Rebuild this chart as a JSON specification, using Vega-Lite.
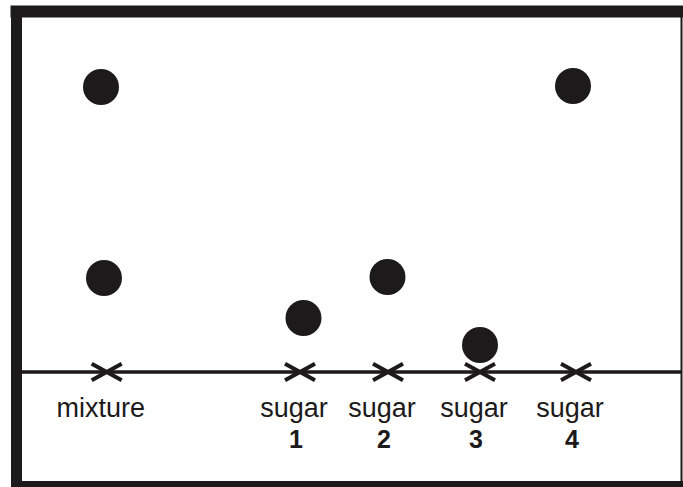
{
  "$schema": "https://vega.github.io/schema/vega-lite/v6.json",
  "width": 665,
  "height": 473,
  "autosize": "none",
  "padding": {"left": 16, "top": 11, "right": 2, "bottom": 3},
  "background": "white",
  "config": {"view": {"stroke": null}},
  "datasets": {
    "lanes": [
      {"lane": "mixture", "x": 9.07, "name": "mixture", "number": ""},
      {"lane": "sugar 1", "x": 28.4, "name": "sugar", "number": "1"},
      {"lane": "sugar 2", "x": 37.2, "name": "sugar", "number": "2"},
      {"lane": "sugar 3", "x": 46.4, "name": "sugar", "number": "3"},
      {"lane": "sugar 4", "x": 56.0, "name": "sugar", "number": "4"}
    ],
    "spots": [
      {"lane": "mixture", "x": 8.5, "distance": 28.5},
      {"lane": "mixture", "x": 8.8, "distance": 9.4},
      {"lane": "sugar 1", "x": 28.75, "distance": 5.4},
      {"lane": "sugar 2", "x": 37.15, "distance": 9.5},
      {"lane": "sugar 3", "x": 46.4, "distance": 2.7},
      {"lane": "sugar 4", "x": 55.7, "distance": 28.6}
    ]
  },
  "resolve": {"axis": {"x": "independent", "y": "independent"}},
  "layer": [
    {
      "data": {"name": "lanes"},
      "mark": {"type": "rule", "color": "#1c1a1b", "strokeWidth": 2.5},
      "encoding": {
        "y": {"datum": 0, "type": "quantitative", "axis": null}
      }
    },
    {
      "data": {"name": "lanes"},
      "mark": {
        "type": "point",
        "shape": "M-1,-0.55L1,0.55M-1,0.55L1,-0.55",
        "filled": false,
        "size": 900,
        "stroke": "#1c1a1b",
        "strokeWidth": 4,
        "opacity": 1
      },
      "encoding": {
        "x": {
          "field": "x", "type": "quantitative",
          "scale": {"domain": [0, 66.5], "nice": false, "zero": false},
          "axis": {"orient": "bottom", "domainColor": "#1c1a1b", "domainWidth": 7, "domainCap": "square", "ticks": false, "labels": false, "grid": false, "title": null}
        },
        "y": {
          "datum": 0, "type": "quantitative",
          "scale": {"domain": [-11.2, 36.1], "nice": false, "zero": false},
          "axis": {"orient": "left", "domainColor": "#1c1a1b", "domainWidth": 11, "domainCap": "square", "ticks": false, "labels": false, "grid": false, "title": null}
        }
      }
    },
    {
      "data": {"name": "spots"},
      "mark": {"type": "circle", "size": 1296, "color": "#1c1a1b", "opacity": 1},
      "encoding": {
        "x": {
          "field": "x", "type": "quantitative",
          "axis": {"orient": "top", "domainColor": "#1c1a1b", "domainWidth": 12, "domainCap": "square", "ticks": false, "labels": false, "grid": false, "title": null}
        },
        "y": {
          "field": "distance", "type": "quantitative",
          "axis": {"orient": "right", "domainColor": "#1c1a1b", "domainWidth": 2, "domainCap": "square", "ticks": false, "labels": false, "grid": false, "title": null}
        }
      }
    },
    {
      "data": {"name": "lanes"},
      "mark": {"type": "text", "font": "Liberation Sans", "fontSize": 27, "baseline": "alphabetic", "align": "center", "dy": 45, "dx": -6, "color": "#1c1a1b"},
      "encoding": {
        "x": {"field": "x", "type": "quantitative", "axis": null},
        "y": {"datum": 0, "type": "quantitative", "axis": null},
        "text": {"field": "name"}
      }
    },
    {
      "data": {"name": "lanes"},
      "mark": {"type": "text", "font": "Liberation Sans", "fontSize": 25, "fontWeight": "bold", "baseline": "alphabetic", "align": "center", "dy": 76, "dx": -4, "color": "#1c1a1b"},
      "encoding": {
        "x": {"field": "x", "type": "quantitative", "axis": null},
        "y": {"datum": 0, "type": "quantitative", "axis": null},
        "text": {"field": "number"}
      }
    }
  ]
}
